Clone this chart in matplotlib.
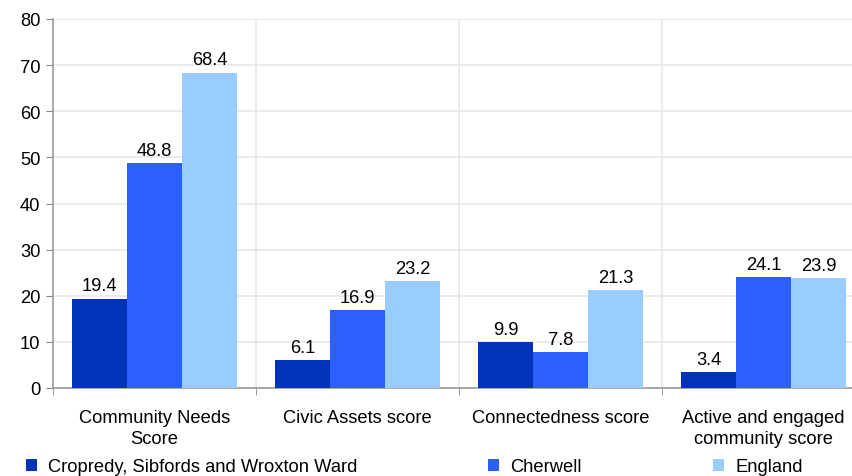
import numpy as np
import matplotlib.pyplot as plt
from matplotlib.ticker import FixedLocator

plt.rcParams['font.family'] = ['Liberation Sans', 'DejaVu Sans']

categories = ["Community Needs\nScore", "Civic Assets score", "Connectedness score",
              "Active and engaged\ncommunity score"]
series = ["Cropredy, Sibfords and Wroxton Ward", "Cherwell", "England"]
ward = [19.4, 6.1, 9.9, 3.4]
cherwell = [48.8, 16.9, 7.8, 24.1]
england = [68.4, 23.2, 21.3, 23.9]
colors = ["#0033B8", "#2B5FFF", "#99CCFF"]

W, H = 853, 477
fs = 13.2
fig = plt.figure(figsize=(W / 100, H / 100), dpi=100)
# axes box in pixels: x 53..865, y 20..389
ax = fig.add_axes([53 / W, 1 - 389 / H, (865 - 53) / W, (389 - 20) / H])

x = np.arange(len(categories))
bw = 0.271
for i, (vals, name, c) in enumerate(zip([ward, cherwell, england], series, colors)):
    pos = x + (i - 1) * bw
    bars = ax.bar(pos, vals, width=bw, color=c, label=name, zorder=3)
    for b, v in zip(bars, vals):
        ax.annotate(f"{v}", (b.get_x() + b.get_width() / 2, v), xytext=(0, 3),
                    textcoords="offset points", ha="center", va="bottom", fontsize=fs)

ax.set_xlim(-0.5, len(categories) - 0.5)
ax.set_ylim(0, 80)
ax.set_yticks(range(0, 81, 10))
ax.tick_params(axis="y", labelsize=fs, length=5, color="#888888", direction="out", pad=4)

# category labels centered, ticks at boundaries
ax.set_xticks(x)
ax.set_xticklabels(categories, fontsize=fs, linespacing=1.3)
ax.tick_params(axis="x", length=0, pad=15)
ax.xaxis.set_minor_locator(FixedLocator(np.arange(-0.5, len(categories), 1.0)))
ax.tick_params(axis="x", which="minor", length=5, color="#888888", direction="out")

ax.grid(axis="y", color="#E8E8E8", linewidth=1.2, zorder=0)
for b in np.arange(0.5, len(categories) - 0.5, 1.0):
    ax.axvline(b, color="#E8E8E8", linewidth=1.2, zorder=0)

for s in ["top", "right"]:
    ax.spines[s].set_visible(False)
for s in ["left", "bottom"]:
    ax.spines[s].set_color("#999999")
    ax.spines[s].set_linewidth(1.2)

fig.legend(loc="center left", bbox_to_anchor=(26 / W, 1 - 468 / H), ncol=3, frameon=False,
           fontsize=fs, handlelength=0.6, handleheight=0.6, handletextpad=0.6,
           columnspacing=7.15, borderpad=0, borderaxespad=0)

fig.savefig("out.png", dpi=100)
